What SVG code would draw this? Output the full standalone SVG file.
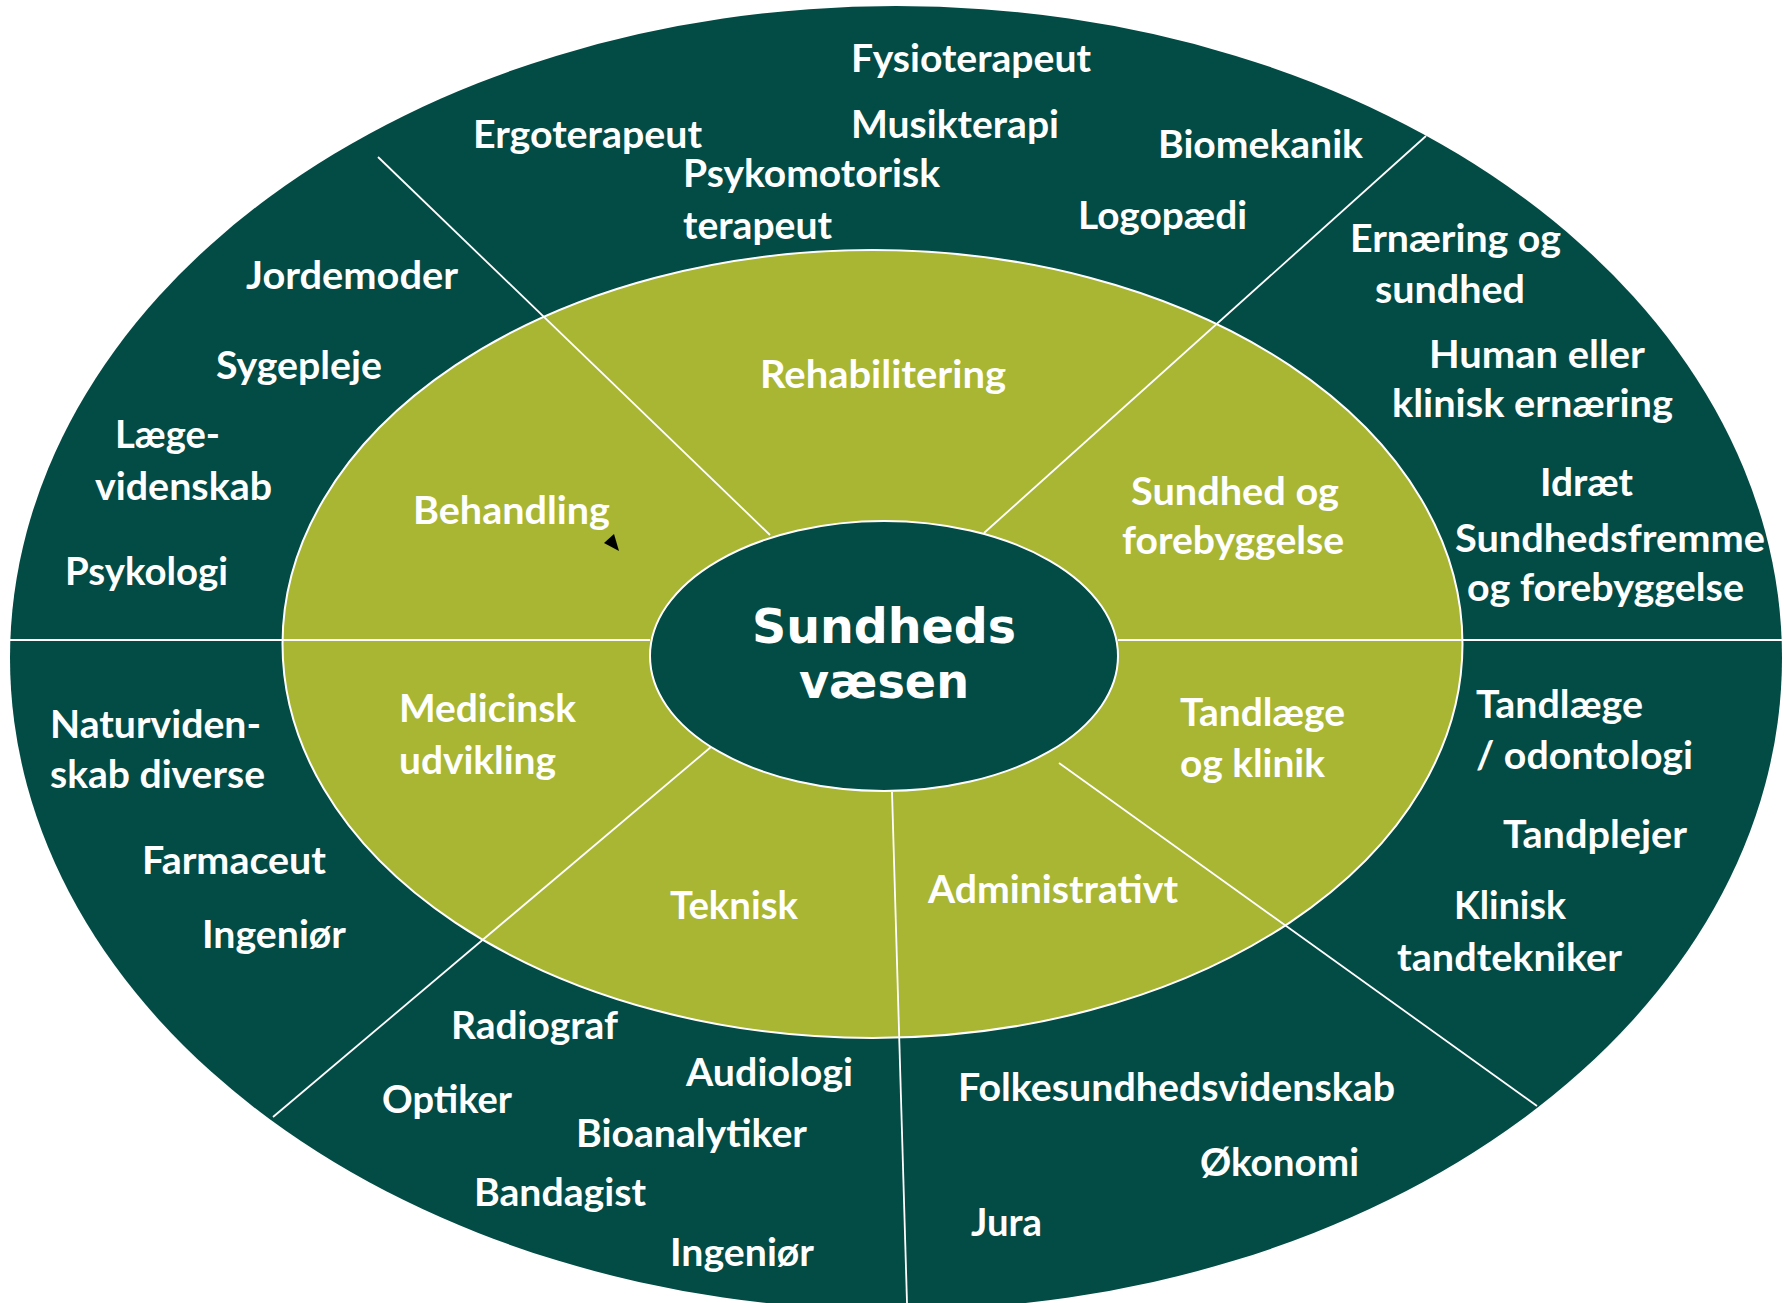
<svg xmlns="http://www.w3.org/2000/svg" width="1784" height="1303" viewBox="0 0 1784 1303">
<style>
.dark{fill:#034b45}
.olive{fill:#a8b633;stroke:#ffffff;stroke-width:2}
.core{fill:#034b45;stroke:#ffffff;stroke-width:2}
.sep{stroke:#ffffff;stroke-width:1.8;fill:none}
text{font-family:Lato,"Open Sans","Liberation Sans",sans-serif;font-weight:bold;font-size:37.5px;fill:#ffffff}
.title{font-family:"DejaVu Sans","Liberation Sans",sans-serif;font-size:48px}
</style>
<rect x="0" y="0" width="1784" height="1303" fill="#ffffff"/>
<g id="rings">
<ellipse class="dark" cx="896" cy="658" rx="886" ry="652"/>
<ellipse class="olive" cx="872.5" cy="644" rx="590" ry="394"/>
</g>
<g id="connectors">
<line class="sep" x1="10" y1="640" x2="650" y2="640"/>
<line class="sep" x1="1118" y1="640" x2="1782" y2="640"/>
<line class="sep" x1="378" y1="157" x2="770" y2="535"/>
<line class="sep" x1="1426" y1="136" x2="984" y2="533"/>
<line class="sep" x1="711" y1="747" x2="273" y2="1117"/>
<line class="sep" x1="892" y1="792" x2="907" y2="1303"/>
<line class="sep" x1="1059" y1="763" x2="1537" y2="1106"/>
<polygon points="614,534 604,543 619,551" fill="#000000"/>
</g>
<g id="center">
<ellipse class="core" cx="884" cy="656" rx="234" ry="135"/>
<text class="title" x="884" y="643" text-anchor="middle" textLength="264" lengthAdjust="spacingAndGlyphs">Sundheds</text>
<text class="title" x="884" y="698" text-anchor="middle" textLength="170" lengthAdjust="spacingAndGlyphs">væsen</text>
</g>
<g id="rehabilitering" transform="translate(0,2)">
<text x="760" y="386" textLength="246" lengthAdjust="spacingAndGlyphs">Rehabilitering</text>
<text x="851" y="70" textLength="240" lengthAdjust="spacingAndGlyphs">Fysioterapeut</text>
<text x="473" y="146" textLength="229" lengthAdjust="spacingAndGlyphs">Ergoterapeut</text>
<text x="851" y="136" textLength="208" lengthAdjust="spacingAndGlyphs">Musikterapi</text>
<text x="1158" y="156" textLength="205" lengthAdjust="spacingAndGlyphs">Biomekanik</text>
<text x="683" y="185" textLength="257" lengthAdjust="spacingAndGlyphs">Psykomotorisk</text>
<text x="683" y="237" textLength="149" lengthAdjust="spacingAndGlyphs">terapeut</text>
<text x="1078" y="227" textLength="169" lengthAdjust="spacingAndGlyphs">Logopædi</text>
</g>
<g id="behandling" transform="translate(0,2)">
<text x="413" y="522" textLength="197" lengthAdjust="spacingAndGlyphs">Behandling</text>
<text x="246" y="287" textLength="212" lengthAdjust="spacingAndGlyphs">Jordemoder</text>
<text x="216" y="377" textLength="166" lengthAdjust="spacingAndGlyphs">Sygepleje</text>
<text x="115" y="446" textLength="105" lengthAdjust="spacingAndGlyphs">Læge-</text>
<text x="95" y="498" textLength="177" lengthAdjust="spacingAndGlyphs">videnskab</text>
<text x="65" y="583" textLength="163" lengthAdjust="spacingAndGlyphs">Psykologi</text>
</g>
<g id="sundhed-og-forebyggelse" transform="translate(0,2)">
<text x="1131" y="503" textLength="208" lengthAdjust="spacingAndGlyphs">Sundhed og</text>
<text x="1122" y="552" textLength="222" lengthAdjust="spacingAndGlyphs">forebyggelse</text>
<text x="1350" y="250" textLength="211" lengthAdjust="spacingAndGlyphs">Ernæring og</text>
<text x="1375" y="301" textLength="150" lengthAdjust="spacingAndGlyphs">sundhed</text>
<text x="1429" y="366" textLength="216" lengthAdjust="spacingAndGlyphs">Human eller</text>
<text x="1392" y="415" textLength="281" lengthAdjust="spacingAndGlyphs">klinisk ernæring</text>
<text x="1540" y="494" textLength="93" lengthAdjust="spacingAndGlyphs">Idræt</text>
<text x="1455" y="550" textLength="310" lengthAdjust="spacingAndGlyphs">Sundhedsfremme</text>
<text x="1467" y="599" textLength="277" lengthAdjust="spacingAndGlyphs">og forebyggelse</text>
</g>
<g id="medicinsk-udvikling" transform="translate(0,2)">
<text x="399" y="720" textLength="177" lengthAdjust="spacingAndGlyphs">Medicinsk</text>
<text x="399" y="772" textLength="157" lengthAdjust="spacingAndGlyphs">udvikling</text>
<text x="50" y="736" textLength="211" lengthAdjust="spacingAndGlyphs">Naturviden-</text>
<text x="50" y="786" textLength="215" lengthAdjust="spacingAndGlyphs">skab diverse</text>
<text x="142" y="872" textLength="184" lengthAdjust="spacingAndGlyphs">Farmaceut</text>
<text x="202" y="946" textLength="144" lengthAdjust="spacingAndGlyphs">Ingeniør</text>
</g>
<g id="teknisk" transform="translate(0,2)">
<text x="670" y="917" textLength="128" lengthAdjust="spacingAndGlyphs">Teknisk</text>
<text x="451" y="1037" textLength="167" lengthAdjust="spacingAndGlyphs">Radiograf</text>
<text x="686" y="1084" textLength="167" lengthAdjust="spacingAndGlyphs">Audiologi</text>
<text x="382" y="1111" textLength="130" lengthAdjust="spacingAndGlyphs">Optiker</text>
<text x="576" y="1145" textLength="231" lengthAdjust="spacingAndGlyphs">Bioanalytiker</text>
<text x="474" y="1204" textLength="172" lengthAdjust="spacingAndGlyphs">Bandagist</text>
<text x="670" y="1264" textLength="144" lengthAdjust="spacingAndGlyphs">Ingeniør</text>
</g>
<g id="administrativt" transform="translate(0,2)">
<text x="928" y="901" textLength="250" lengthAdjust="spacingAndGlyphs">Administrativt</text>
<text x="958" y="1099" textLength="437" lengthAdjust="spacingAndGlyphs">Folkesundhedsvidenskab</text>
<text x="1200" y="1174" textLength="159" lengthAdjust="spacingAndGlyphs">Økonomi</text>
<text x="971" y="1234" textLength="71" lengthAdjust="spacingAndGlyphs">Jura</text>
</g>
<g id="tandlaege-og-klinik" transform="translate(0,2)">
<text x="1180" y="724" textLength="165" lengthAdjust="spacingAndGlyphs">Tandlæge</text>
<text x="1180" y="775" textLength="145" lengthAdjust="spacingAndGlyphs">og klinik</text>
<text x="1476" y="716" textLength="167" lengthAdjust="spacingAndGlyphs">Tandlæge</text>
<text x="1476" y="767" textLength="217" lengthAdjust="spacingAndGlyphs">/ odontologi</text>
<text x="1503" y="846" textLength="184" lengthAdjust="spacingAndGlyphs">Tandplejer</text>
<text x="1454" y="917" textLength="112" lengthAdjust="spacingAndGlyphs">Klinisk</text>
<text x="1397" y="969" textLength="225" lengthAdjust="spacingAndGlyphs">tandtekniker</text>
</g>
</svg>
